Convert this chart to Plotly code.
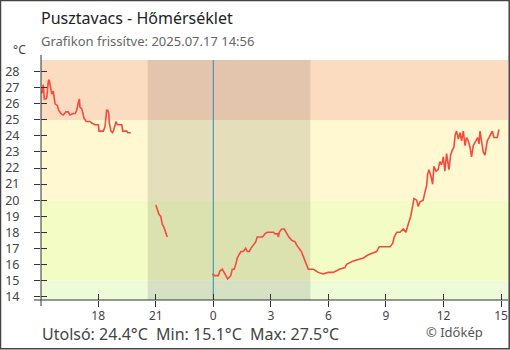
import pandas as pd
import plotly.graph_objects as go

# --- data: hours relative to midnight of 2025-07-17, temperatures in °C ---
seg1_hours = [-8.98, -8.93, -8.86, -8.81, -8.73, -8.68, -8.60, -8.55, -8.51, -8.46,
              -8.42, -8.34, -8.29, -8.25, -8.13, -8.06, -7.95, -7.82, -7.68, -7.56,
              -7.47, -7.30, -7.19, -7.12, -7.03, -6.98, -6.95, -6.86, -6.81, -6.74,
              -6.63, -6.43, -6.34, -6.16, -5.99, -5.96, -5.73, -5.64, -5.56, -5.50,
              -5.45, -5.42, -5.33, -5.26, -5.21, -5.12, -5.07, -5.00, -4.77, -4.72,
              -4.51, -4.46, -4.30]
seg1_temps = [26.7, 26.7, 27.2, 26.3, 26.3, 26.4, 27.4, 27.5, 27.2, 26.9,
              26.6, 26.8, 26.4, 26.0, 25.9, 25.6, 25.4, 25.3, 25.5, 25.5,
              25.3, 25.4, 25.4, 25.6, 26.1, 26.3, 25.8, 25.7, 25.5, 25.1,
              24.9, 24.9, 24.8, 24.7, 24.7, 24.3, 24.3, 24.6, 25.6, 25.6,
              25.4, 24.8, 24.3, 24.2, 24.3, 24.7, 24.9, 24.7, 24.7, 24.3,
              24.3, 24.2, 24.2]

seg2_hours = [-2.99, -2.92, -2.83, -2.74, -2.66, -2.57, -2.48, -2.40]
seg2_temps = [19.7, 19.4, 19.1, 19.0, 18.5, 18.3, 18.0, 17.7]

seg3_hours = [-0.05, 0.07, 0.26, 0.35, 0.47, 0.56, 0.66, 0.75, 0.83, 0.91,
              0.99, 1.09, 1.17, 1.25, 1.34, 1.44, 1.56, 1.69, 1.77, 1.88,
              1.96, 2.08, 2.21, 2.29, 2.57, 2.69, 2.81, 3.13, 3.22, 3.36,
              3.39, 3.44, 3.56, 3.70, 3.79, 3.86, 3.94, 4.09, 4.26, 4.35,
              4.48, 4.59, 4.69, 4.78, 4.87, 4.95, 5.13, 5.21, 5.34, 5.47,
              5.73, 5.99, 6.25, 6.57, 6.86, 6.95, 7.26, 7.56, 7.82, 8.08,
              8.34, 8.51, 8.65, 8.95, 9.21, 9.35, 9.43, 9.56, 9.73, 9.90,
              10.04, 10.16, 10.29, 10.37, 10.46, 10.60, 10.68, 10.77, 10.94, 11.03,
              11.12, 11.17, 11.24, 11.34, 11.43, 11.50, 11.61, 11.72, 11.81, 11.90,
              11.99, 12.07, 12.16, 12.28, 12.37, 12.45, 12.54, 12.61, 12.68, 12.77,
              12.86, 12.94, 13.03, 13.12, 13.20, 13.29, 13.38, 13.46, 13.55, 13.78,
              13.85, 13.90, 13.99, 14.07, 14.16, 14.21, 14.28, 14.37, 14.46, 14.54,
              14.63, 14.80, 14.89]
seg3_temps = [15.4, 15.3, 15.3, 15.6, 15.7, 15.5, 15.3, 15.1, 15.2, 15.3,
              15.7, 15.7, 16.0, 16.4, 16.6, 16.8, 16.8, 17.0, 16.8, 16.8,
              17.0, 17.2, 17.4, 17.7, 17.7, 17.9, 18.0, 18.0, 17.9, 17.9,
              17.7, 18.0, 18.2, 18.2, 18.0, 17.9, 17.7, 17.5, 17.4, 17.2,
              17.0, 16.8, 16.5, 16.2, 15.9, 15.7, 15.7, 15.7, 15.6, 15.5,
              15.4, 15.5, 15.5, 15.7, 15.8, 16.0, 16.2, 16.3, 16.4, 16.6,
              16.7, 16.8, 17.1, 17.1, 17.1, 17.3, 17.7, 18.0, 18.0, 18.2,
              18.0, 18.5, 19.0, 19.5, 20.1, 20.0, 19.6, 19.9, 20.0, 20.5,
              20.9, 21.6, 21.9, 21.5, 21.0, 22.1, 21.8, 21.9, 22.4, 22.2,
              22.7, 21.8, 22.9, 21.9, 22.8, 23.1, 23.3, 24.1, 24.3, 23.8,
              24.2, 23.7, 24.3, 23.4, 23.9, 23.7, 23.3, 22.7, 23.4, 23.9,
              23.5, 24.3, 23.7, 23.0, 22.8, 23.3, 23.7, 23.9, 24.1, 24.3,
              23.9, 23.9, 24.4]

tick_hours = [-6, -3, 0, 3, 6, 9, 12, 15]
tick_labels = ["18", "21", "0", "3", "6", "9", "12", "15"]

sunset_hour = -3.42
sunrise_hour = 5.06

band_edges = [13.78, 15, 20, 25, 28.73]
band_colors = ["#eefbd8", "#f4fcc5", "#fff8d0", "#fcdcc0"]

last_temp, min_temp, max_temp = 24.4, 15.1, 27.5

base = pd.Timestamp("2025-07-17 00:00")


def to_time(hours):
    return [base + pd.Timedelta(hours=h) for h in hours]


# join the three logged stretches with gaps between them
xs = to_time(seg1_hours) + [None] + to_time(seg2_hours) + [None] + to_time(seg3_hours)
ys = seg1_temps + [None] + seg2_temps + [None] + seg3_temps

x_range = to_time([-8.98, 15.36])
y_range = [band_edges[0], band_edges[-1]]

W, H = 510, 350
ML, MR, MT, MB = 41, 2, 60, 50
PW, PH = W - ML - MR, H - MT - MB


def px(x):
    return (x - ML) / PW


def py(y):
    return (H - MB - y) / PH


fig = go.Figure()
fig.add_trace(go.Scatter(x=xs, y=ys, mode="lines", connectgaps=False,
                         line=dict(color="#f64a3e", width=1.6),
                         hoverinfo="skip", showlegend=False))
# empty trace so the companion (inside-tick) axes get drawn
fig.add_trace(go.Scatter(x=[None], y=[None], xaxis="x2", yaxis="y2",
                         showlegend=False, hoverinfo="skip"))

shapes = []
for lo, hi, col in zip(band_edges[:-1], band_edges[1:], band_colors):
    shapes.append(dict(type="rect", xref="paper", yref="y", x0=0, x1=1, y0=lo, y1=hi,
                       fillcolor=col, line=dict(width=0), layer="below"))
shapes.append(dict(type="rect", xref="x", yref="paper",
                   x0=to_time([sunset_hour])[0], x1=to_time([sunrise_hour])[0], y0=0, y1=1,
                   fillcolor="rgba(0,0,0,0.1)", line=dict(width=0), layer="below"))
shapes.append(dict(type="line", xref="x", yref="paper", x0=base, x1=base, y0=0, y1=1,
                   line=dict(color="#2f8bc4", width=1), layer="below"))
# axis lines, slightly overshooting at the corner
shapes.append(dict(type="line", xref="paper", yref="paper", x0=px(34), x1=1, y0=0, y1=0,
                   line=dict(color="#333333", width=1)))
shapes.append(dict(type="line", xref="paper", yref="paper", x0=0, x1=0, y0=py(306), y1=py(55),
                   line=dict(color="#333333", width=1)))
# frame around the whole graphic
shapes.append(dict(type="rect", xref="paper", yref="paper",
                   x0=px(0.5), x1=px(509.2), y0=py(348.8), y1=py(0.5),
                   line=dict(color="#444444", width=1.5), fillcolor="rgba(0,0,0,0)"))

font = "Noto Sans, Open Sans, sans-serif"
annotations = [
    dict(text="Pusztavacs - Hőmérséklet", x=px(39), y=py(18), xanchor="left", yanchor="middle",
         font=dict(size=16, color="#222222")),
    dict(text="Grafikon frissítve: 2025.07.17 14:56", x=px(39), y=py(41), xanchor="left",
         yanchor="middle", font=dict(size=13, color="#666666")),
    dict(text="°C", x=px(11), y=py(50), xanchor="left", yanchor="middle",
         font=dict(size=12, color="#444444")),
    dict(text=f"Utolsó: {last_temp}°C  Min: {min_temp}°C  Max: {max_temp}°C",
         x=px(39.5), y=py(334), xanchor="left", yanchor="middle",
         font=dict(size=16, color="#444444")),
    dict(text="© Időkép", x=px(424), y=py(332), xanchor="left", yanchor="middle",
         font=dict(size=13, color="#555555")),
]
for a in annotations:
    a.update(xref="paper", yref="paper", showarrow=False)

tickvals = to_time(tick_hours)
common_x = dict(type="date", range=x_range, tickmode="array", tickvals=tickvals,
                showgrid=False, zeroline=False, showline=False, ticklen=6,
                tickcolor="#333333", tickwidth=1)
common_y = dict(range=y_range, tickmode="linear", tick0=14, dtick=1, showgrid=False,
                zeroline=False, showline=False, ticklen=6, tickcolor="#333333", tickwidth=1)

fig.update_layout(
    width=W, height=H,
    margin=dict(l=ML, r=MR, t=MT, b=MB, pad=0),
    paper_bgcolor="white", plot_bgcolor="white",
    font=dict(family=font),
    xaxis=dict(**common_x, ticks="outside", ticktext=tick_labels,
               tickfont=dict(size=12, color="#444444"), ticklabelstandoff=-1),
    yaxis=dict(**common_y, ticks="outside", tickfont=dict(size=12.5, color="#444444"),
               ticklabelstandoff=12),
    xaxis2=dict(**common_x, ticks="inside", overlaying="x", anchor="y", showticklabels=False),
    yaxis2=dict(**common_y, ticks="inside", overlaying="y", anchor="x", side="left",
                showticklabels=False),
    shapes=shapes,
    annotations=annotations,
    hovermode=False,
)

fig.write_html("out.html", config=dict(displayModeBar=False))
